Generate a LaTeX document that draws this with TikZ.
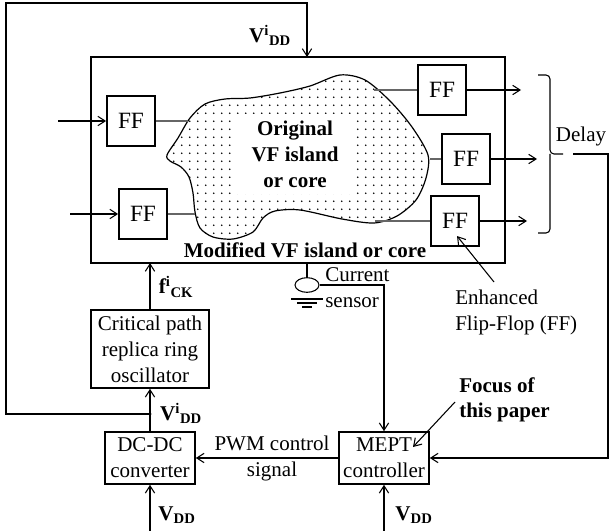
\documentclass[tikz,border=0pt]{standalone}
\usepackage{fontspec}
\setmainfont{Liberation Serif}
\usetikzlibrary{arrows.meta,patterns.meta,shapes.geometric}

\tikzdeclarepattern{
  name=islanddots,
  type=uncolored,
  bounding box={(0pt,0pt) and (5.8pt,5.8pt)},
  tile size={(5.8pt,5.8pt)},
  code={\fill (2.9pt,2.9pt) circle (0.7pt);}
}

\begin{document}
\begin{tikzpicture}[x=0.75pt,y=0.75pt,yscale=-1,xscale=1,
  font=\fontsize{15.75}{19.5}\selectfont,
  >={Straight Barb[length=5.5pt,width=7pt]},
  wire/.style={line width=0.8pt},
  greywire/.style={line width=0.8pt, black!60},
  ffbox/.style={draw, line width=1.3pt, minimum width=36pt, minimum height=37.5pt, inner sep=0pt, font=\fontsize{17.5}{20}\selectfont},
  block/.style={draw, line width=1.2pt, align=center, inner sep=0pt},
  lbl/.style={inner sep=0pt, font=\fontsize{15.75}{19.5}\selectfont\bfseries}
]
\useasboundingbox (0,0) rectangle (610,531);

%Main box
\draw [line width=1.7pt] (91,57) rectangle (505,263);
\coordinate (coreTop) at (307,57);
\coordinate (coreBot) at (150,263);
\coordinate (sensTop) at (307,263);

%Island
\draw [line width=0.9pt, pattern={islanddots}, pattern color=black] plot [smooth cycle] coordinates {
  (167,155) (178,138) (190,118) (205,104) (225,99) (250,98) (280,93) (310,86) (340,75) (365,80)
  (390,101) (412,127) (428,155) (426,178) (416,200) (397,216) (374,223) (342,219) (300,210) (275,211)
  (263,218) (253,232) (233,239) (213,237) (200,228) (195,212) (193,193) (189,177) (181,167) (170,161)};
\node (orig) [fill=white, align=center, minimum width=88pt, minimum height=60pt, inner sep=0pt, font=\fontsize{15.75}{19.5}\selectfont\bfseries] at (295,154) {Original\\VF island\\or core};
\node (modif) [lbl] at (305,250) {Modified VF island or core};

%Flip-flops
\node (ffa) [ffbox] at (131,121) {FF};
\node (ffb) [ffbox] at (143,214) {FF};
\node (ffc) [ffbox] at (442,90) {FF};
\node (ffd) [ffbox] at (466,159) {FF};
\node (ffe) [ffbox] at (455,221) {FF};

\coordinate (inA) at (58,121);
\coordinate (inB) at (70,214);
\coordinate (islA) at (188,121);
\coordinate (islB) at (195,214);
\coordinate (islC) at (374,90);
\coordinate (islD) at (430,159);
\coordinate (islE) at (375,221);
\coordinate (outC) at (521,90);
\coordinate (outD) at (537,159);
\coordinate (outE) at (527,221);

\draw [->, wire] (inA) -- (ffa);
\draw [->, wire] (inB) -- (ffb);
\draw [greywire] (ffa) -- (islA);
\draw [greywire] (ffb) -- (islB);
\draw [greywire] (islC) -- (ffc);
\draw [greywire] (islD) -- (ffd);
\draw [greywire] (islE) -- (ffe);
\draw [->, wire] (ffc) -- (outC);
\draw [->, wire] (ffd) -- (outD);
\draw [->, wire] (ffe) -- (outE);

%Delay brace
\draw [wire, rounded corners=3pt] (538,75) -- (550,75) -- (550,154) -- (563,154);
\draw [wire, rounded corners=3pt] (550,154) -- (550,233) -- (538,233);
\node (delay) at (581,136) {Delay};
\coordinate (braceTip) at (573,154);
\coordinate (fbR) at (608,458);

%Lower blocks
\node (crit) [block, minimum width=88.5pt, minimum height=58.5pt] at (150,349) {Critical path\\replica ring\\oscillator};
\node (dcdc) [block, minimum width=67.5pt, minimum height=39pt] at (150,458) {DC-DC\\converter};
\node (mept) [block, minimum width=67.5pt, minimum height=39pt] at (384,458) {MEPT\\controller};

\coordinate (vdot) at (150,414);
\fill (vdot) circle (1.6);
\coordinate (vddA) at (150,531);
\coordinate (vddB) at (384,531);

\draw [->, wire] (crit) -- (coreBot);
\draw [->, wire] (vdot) -- (crit);
\draw [wire] (dcdc) -- (vdot);
\draw [->, wire] (vddA) -- (dcdc);
\draw [->, wire] (vddB) -- (mept);
\draw [->, wire] (mept) -- (dcdc);
\node (pwm) [align=center] at (272,458) {PWM control\\signal};

%Feedback loops
\draw [->, wire] (vdot) -- (6,414) -- (6,3) -- (307,3) -- (coreTop);
\draw [->, wire] (braceTip) -- (608,154) -- (fbR) -- (mept);

%Current sensor
\node (sens) [draw, ellipse, line width=0.8pt, minimum width=18pt, minimum height=11pt, inner sep=0pt] at (307,285) {};
\draw [wire] (sensTop) -- (sens);
\draw [wire] (291,299) -- (323,299) (297,303) -- (317,303) (302,307) -- (312,307);
\draw [->, wire] (sens.east) -| (mept);
\node (cur) [anchor=west, align=left, inner sep=0pt] at (325,288) {Current\\sensor};

% Text Node
\node (vddTop) [lbl] at (270,35) {V\textsuperscript{i}\textsubscript{DD}};
\node (fck) [lbl] at (176,287) {f\textsuperscript{i}\textsubscript{CK}};
\node (vddMid) [lbl] at (181,413) {V\textsuperscript{i}\textsubscript{DD}};
\node (vddLa) [lbl] at (177,515) {V\textsubscript{DD}};
\node (vddLb) [lbl] at (414,515) {V\textsubscript{DD}};

%Annotations
\node (enh) [anchor=west, align=left, inner sep=0pt] at (455,312) {Enhanced\\Flip-Flop (FF)};
\coordinate (enhTail) at (494,282);
\coordinate (enhTip) at (457,236);
\draw [->, wire] (enhTail) -- (enhTip);
\node (focus) [anchor=west, align=left, inner sep=0pt, font=\fontsize{15.75}{18.5}\selectfont\bfseries] at (459,400) {Focus of\\this paper};
\coordinate (focusTail) at (455,402);
\coordinate (focusTip) at (413,447);
\draw [->, wire] (focusTail) -- (focusTip);

\end{tikzpicture}
\end{document}
